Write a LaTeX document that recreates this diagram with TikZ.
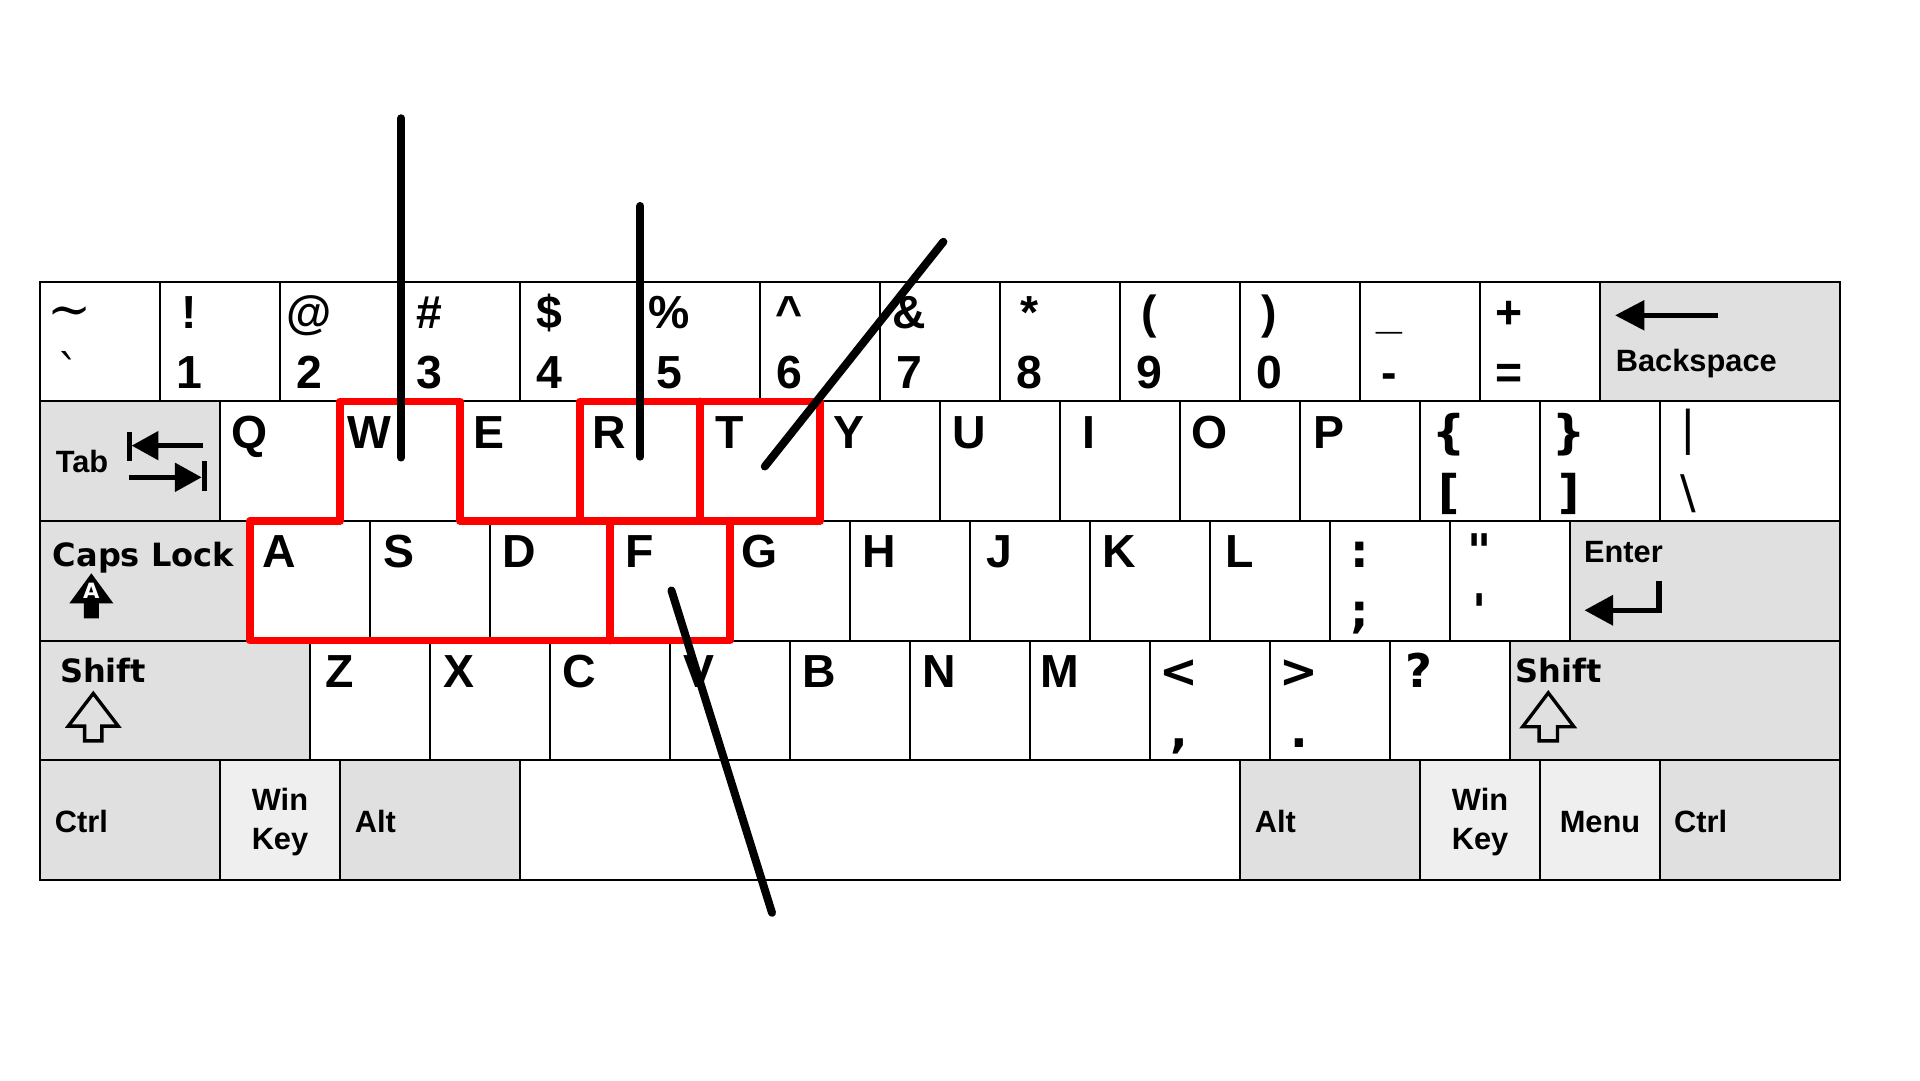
\documentclass[tikz,border=0pt]{standalone}
\usepackage{fontspec}
\setmainfont{Liberation Sans}
\newfontfamily\djsans{DejaVu Sans}
\newfontfamily\djserif{DejaVu Serif}
\usetikzlibrary{calc,arrows.meta}
\definecolor{modgray}{HTML}{E0E0E0}
\definecolor{wingray}{HTML}{EFEFEF}
\definecolor{markred}{HTML}{FF0000}
\def\rh{0.997}

\begin{document}
\begin{tikzpicture}

    \tikzstyle{keybox} = [draw, fill=white, line width=0.5pt, anchor=north west,
        minimum width=1cm, minimum height=0.997cm, inner sep=0pt, outer sep=0pt]
    \tikzstyle{modbox} = [keybox, fill=modgray]
    \tikzstyle{winbox} = [keybox, fill=wingray]
    \tikzstyle{glyph} = [anchor=base, inner sep=0pt, font=\fontsize{11}{13}\selectfont\bfseries]
    \tikzstyle{dglyph} = [glyph, font=\djsans\fontsize{11}{13}\selectfont\bfseries]
    \tikzstyle{lbl} = [anchor=base west, inner sep=0pt, font=\fontsize{7.3}{9}\selectfont\bfseries]
    \tikzstyle{dlbl} = [lbl, font=\djsans\fontsize{7.6}{9}\selectfont\bfseries]
    \tikzstyle{icon} = [line width=1.2pt]
    \tikzstyle{redline} = [draw=markred, line width=1.8pt, line join=round, line cap=round]
    \tikzstyle{swipe} = [line width=1.9pt, line cap=round]

    \useasboundingbox (-0.3333,2.3475) rectangle (15.6667,-6.6525);
    \fill[white] (-0.3333,2.3475) rectangle (15.6667,-6.6525);

    % Number row
    \node [keybox] (kTilde) at (0,0) {};
    \node [glyph, font=\djserif\fontsize{12.5}{14}\selectfont] at ($(kTilde.north west)+(0.245,-0.38)$) {\char"7E};
    \node [glyph, font=\djserif\fontsize{11}{13}\selectfont] at ($(kTilde.north west)+(0.245,-0.89)$) {\char"60};
    \foreach \i/\up/\lo in {1/!/1, 2/@/2, 3/\#/3, 4/\$/4, 5/\%/5, 6/\char"5E/6,
        7/\&/7, 8/*/8, 9/{(}/9, 10/{)}/0, 11/\_/-, 12/+/=} {
        \node [keybox] (k\i) at (\i,0) {};
        \node [glyph] at ($(k\i.north west)+(0.245,-0.39)$) {\up};
        \node [glyph] at ($(k\i.north west)+(0.245,-0.89)$) {\lo};
    }
    \node [modbox, minimum width=2cm] (kBack) at (13,0) {};
    \node [lbl] at ($(kBack.north west)+(0.125,-0.75)$) {Backspace};

    % Top letter row
    \node [modbox, minimum width=1.5cm] (kTab) at (0,-\rh) {};
    \node [lbl] at ($(kTab.north west)+(0.125,-0.59)$) {Tab};
    \foreach \L [count=\i from 0] in {Q,W,E,R,T,Y,U,I,O,P} {
        \node [keybox] (k\L) at (1.5+\i,-\rh) {};
        \node [glyph] at ($(k\L.north west)+(0.245,-0.39)$) {\L};
    }
    \node [keybox] (kLBrace) at (11.5,-\rh) {};
    \node [dglyph] at ($(kLBrace.north west)+(0.245,-0.39)$) {\{};
    \node [dglyph] at ($(kLBrace.north west)+(0.245,-0.89)$) {[};
    \node [keybox] (kRBrace) at (12.5,-\rh) {};
    \node [dglyph] at ($(kRBrace.north west)+(0.245,-0.39)$) {\}};
    \node [dglyph] at ($(kRBrace.north west)+(0.245,-0.89)$) {]};
    \node [keybox, minimum width=1.5cm] (kBar) at (13.5,-\rh) {};
    \node [glyph, font=\djsans\fontsize{11}{13}\selectfont] at ($(kBar.north west)+(0.235,-0.36)$) {\char"7C};
    \node [glyph, font=\djsans\fontsize{11}{13}\selectfont] at ($(kBar.north west)+(0.235,-0.89)$) {\char"5C};

    % Home row
    \node [modbox, minimum width=1.75cm] (kCaps) at (0,-2*\rh) {};
    \node [dlbl] at ($(kCaps.north west)+(0.1,-0.38)$) {Caps Lock};
    \foreach \L [count=\i from 0] in {A,S,D,F,G,H,J,K,L} {
        \node [keybox] (k\L) at (1.75+\i,-2*\rh) {};
        \node [glyph] at ($(k\L.north west)+(0.245,-0.39)$) {\L};
    }
    \node [keybox] (kSemi) at (10.75,-2*\rh) {};
    \node [dglyph] at ($(kSemi.north west)+(0.245,-0.39)$) {:};
    \node [dglyph] at ($(kSemi.north west)+(0.245,-0.89)$) {;};
    \node [keybox] (kQuote) at (11.75,-2*\rh) {};
    \node [dglyph] at ($(kQuote.north west)+(0.245,-0.39)$) {\char"22};
    \node [dglyph] at ($(kQuote.north west)+(0.245,-0.89)$) {\char"27};
    \node [modbox, minimum width=2.25cm] (kEnter) at (12.75,-2*\rh) {};
    \node [lbl] at ($(kEnter.north west)+(0.11,-0.345)$) {Enter};

    % Bottom letter row
    \node [modbox, minimum width=2.25cm] (kLShift) at (0,-3*\rh) {};
    \node [dlbl] at ($(kLShift.north west)+(0.16,-0.35)$) {Shift};
    \foreach \L [count=\i from 0] in {Z,X,C,V,B,N,M} {
        \node [keybox] (k\L) at (2.25+\i,-3*\rh) {};
        \node [glyph] at ($(k\L.north west)+(0.245,-0.39)$) {\L};
    }
    \foreach \n/\up/\lo [count=\i from 0] in {Comma/</{,}, Dot/>/., Slash/?//} {
        \node [keybox] (k\n) at (9.25+\i,-3*\rh) {};
        \node [dglyph] at ($(k\n.north west)+(0.245,-0.39)$) {\up};
        \node [dglyph] at ($(k\n.north west)+(0.245,-0.89)$) {\lo};
    }
    \node [modbox, minimum width=2.75cm] (kRShift) at (12.25,-3*\rh) {};
    \node [dlbl] at ($(kRShift.north west)+(0.036,-0.35)$) {Shift};

    % Space row
    \node [modbox, minimum width=1.5cm] (kLCtrl) at (0,-4*\rh) {};
    \node [lbl] at ($(kLCtrl.north west)+(0.117,-0.6)$) {Ctrl};
    \node [winbox] (kLWin) at (1.5,-4*\rh) {};
    \node [lbl, anchor=base] at ($(kLWin.north)+(0,-0.417)$) {Win};
    \node [lbl, anchor=base] at ($(kLWin.north)+(0,-0.74)$) {Key};
    \node [modbox, minimum width=1.5cm] (kLAlt) at (2.5,-4*\rh) {};
    \node [lbl] at ($(kLAlt.north west)+(0.117,-0.6)$) {Alt};
    \node [keybox, minimum width=6cm] (kSpace) at (4,-4*\rh) {};
    \node [modbox, minimum width=1.5cm] (kRAlt) at (10,-4*\rh) {};
    \node [lbl] at ($(kRAlt.north west)+(0.117,-0.6)$) {Alt};
    \node [winbox] (kRWin) at (11.5,-4*\rh) {};
    \node [lbl, anchor=base] at ($(kRWin.north)+(0,-0.417)$) {Win};
    \node [lbl, anchor=base] at ($(kRWin.north)+(0,-0.74)$) {Key};
    \node [winbox] (kMenu) at (12.5,-4*\rh) {};
    \node [lbl, anchor=base] at ($(kMenu.north)+(0,-0.6)$) {Menu};
    \node [modbox, minimum width=1.5cm] (kRCtrl) at (13.5,-4*\rh) {};
    \node [lbl] at ($(kRCtrl.north west)+(0.111,-0.6)$) {Ctrl};

    % Key icons
    \begin{scope}[shift={(kBack.north west)}]
        \draw[icon, -{Triangle[length=0.244cm,width=0.242cm]}] (0.986,-0.28) -- (0.125,-0.28);
    \end{scope}
    \begin{scope}[shift={(kTab.north west)}]
        \draw[icon] (0.742,-0.258) -- (0.742,-0.494);
        \draw[icon, line width=1.1pt, -{Triangle[length=0.222cm,width=0.234cm]}] (1.36,-0.369) -- (0.764,-0.369);
        \draw[icon, line width=1.1pt, -{Triangle[length=0.222cm,width=0.234cm]}] (0.742,-0.633) -- (1.347,-0.633);
        \draw[icon] (1.368,-0.5) -- (1.368,-0.75);
    \end{scope}
    \begin{scope}[shift={(kEnter.north west)}]
        \draw[icon, line width=1.3pt, -{Triangle[length=0.24cm,width=0.246cm]}] (0.743,-0.5) |- (0.12,-0.744);
    \end{scope}
    \begin{scope}[shift={(kCaps.north west)}]
        \fill (0.428,-0.436) -- (0.611,-0.686) -- (0.4905,-0.686) -- (0.4905,-0.811)
            -- (0.3655,-0.811) -- (0.3655,-0.686) -- (0.245,-0.686) -- cycle;
        \node [anchor=base, inner sep=0pt, text=white, font=\djsans\fontsize{5}{6}\selectfont\bfseries] at (0.428,-0.644) {A};
    \end{scope}
    \begin{scope}[shift={(kLShift.north west)}]
        \draw[line width=0.8pt] (0.444,-0.44) -- (0.652,-0.712) -- (0.516,-0.712) -- (0.516,-0.835)
            -- (0.372,-0.835) -- (0.372,-0.712) -- (0.236,-0.712) -- cycle;
    \end{scope}
    \begin{scope}[shift={(kRShift.north west)}]
        \draw[line width=0.8pt] (0.319,-0.435) -- (0.533,-0.718) -- (0.396,-0.718) -- (0.396,-0.835)
            -- (0.242,-0.835) -- (0.242,-0.718) -- (0.105,-0.718) -- cycle;
    \end{scope}

    % Highlighted keys
    \draw[redline] (kA.north west) -- (kA.south west) -- (kF.south east) -- (kF.north east)
        -- (kF.north west) -- (kF.south west);
    \draw[redline] (kA.north west) -- (kW.south west) -- (kW.north west) -- (kW.north east)
        -- (kW.south east) -- (kT.south east) -- (kT.north east) -- (kR.north west) -- (kR.south west);
    \draw[redline] (kT.north west) -- (kT.south west);

    % Swipes
    \coordinate (wTop) at (3.01,1.362);
    \coordinate (wEnd) at (3.01,-1.465);
    \coordinate (rTop) at (5.003,0.631);
    \coordinate (rEnd) at (5.003,-1.458);
    \coordinate (tEnd) at (6.04,-1.54);
    \coordinate (tTop) at (7.528,0.333);
    \coordinate (fTop) at (5.262,-2.573);
    \coordinate (fEnd) at (6.1,-5.259);
    \draw[swipe] (wTop) -- (wEnd);
    \draw[swipe] (rTop) -- (rEnd);
    \draw[swipe] (tEnd) -- (tTop);
    \draw[swipe] (fTop) -- (fEnd);

\end{tikzpicture}
\end{document}
